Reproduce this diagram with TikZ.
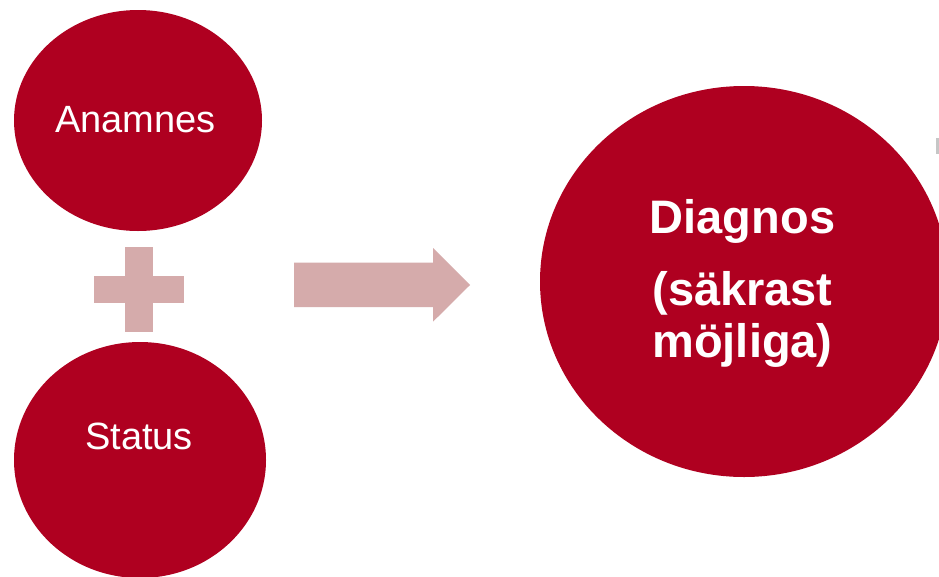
\documentclass[tikz,border=0pt]{standalone}
\usepackage{fontspec}
\setmainfont{Liberation Sans}
\usetikzlibrary{shapes.geometric}
\definecolor{darkred}{HTML}{AF0020}
\definecolor{lightpink}{HTML}{D5ABAB}
\tikzset{
  blob/.style={ellipse, fill=darkred, draw=none, inner sep=0pt},
  smalltext/.style={text=white, anchor=base, inner sep=0pt, font=\fontsize{38}{44}\selectfont},
  bigtext/.style={text=white, anchor=base, inner sep=0pt, font=\fontsize{47}{52}\selectfont\bfseries},
  pale/.style={fill=lightpink, draw=none}
}
\begin{document}
\begin{tikzpicture}[x=1pt,y=-1pt]
\clip (0,0) rectangle (939,576);
\fill[white] (0,0) rectangle (939,576);
% circles
\node[blob, minimum width=248pt, minimum height=221pt] (anam) at (138,120.5) {};
\node[blob, minimum width=252pt, minimum height=236pt] (stat) at (140,460) {};
\node[blob, minimum width=408pt, minimum height=391pt] (diag) at (744,281.5) {};
% texts
\node[smalltext] (anamt) at (135.5,132) {Anamnes};
\node[smalltext] (statt) at (139,449) {Status};
\node[bigtext] (diag1) at (742.5,233) {Diagnos};
\node[bigtext] (diag2) at (742.5,305) {(säkrast};
\node[bigtext] (diag3) at (742.5,357) {möjliga)};
% plus sign
\fill[pale] (125,247) rectangle (152.5,332);
\fill[pale] (94,276) rectangle (184,303);
% block arrow
\fill[pale] (294,262.5) -- (433,262.5) -- (433,248) -- (470,285) -- (433,321.7) -- (433,307) -- (294,307) -- cycle;
% faint grey sliver at right edge
\fill[gray!45] (936,138) rectangle (939,154);
\end{tikzpicture}
\end{document}
